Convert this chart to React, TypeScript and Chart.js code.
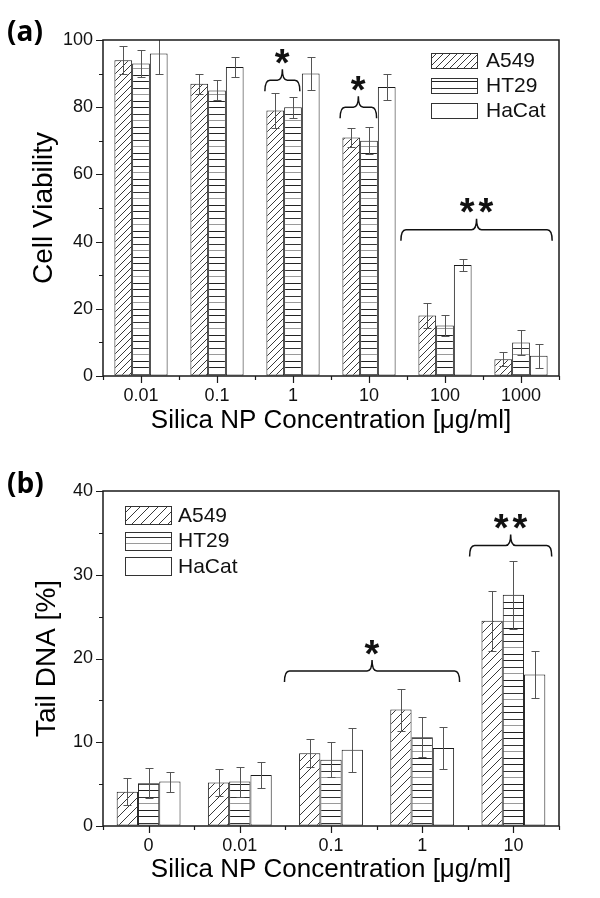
import React, { useEffect, useRef } from 'react';
import { Chart, registerables } from 'chart.js';
Chart.register(...registerables);

const FONT = "'Liberation Sans', Arial, sans-serif";

// ---------- Panel (a): cell viability ----------
const catsA = ['0.01', '0.1', '1', '10', '100', '1000'];
const a549A = [94, 87, 79, 71, 18, 5];
const a549ErrA = [4.2, 3, 5.2, 2.9, 3.8, 2];
const ht29A = [93, 85, 80, 70, 15, 10];
const ht29ErrA = [4, 3, 3.1, 4, 3.1, 3.8];
const hacatA = [96, 92, 90, 86, 33, 6];
const hacatErrA = [6, 3, 5, 4, 1.8, 3.5];

// ---------- Panel (b): tail DNA ----------
const catsB = ['0', '0.01', '0.1', '1', '10'];
const a549B = [4.1, 5.2, 8.7, 13.9, 24.5];
const a549ErrB = [1.6, 1.6, 1.7, 2.5, 3.6];
const ht29B = [5.1, 5.3, 7.9, 10.6, 27.6];
const ht29ErrB = [1.8, 1.8, 2.1, 2.4, 4.1];
const hacatB = [5.3, 6.1, 9.1, 9.3, 18.1];
const hacatErrB = [1.2, 1.6, 2.6, 2.5, 2.8];

const seriesNames = ['A549', 'HT29', 'HaCat'];

// significance brackets (x in category-index units, y in data units)
const bracketsA = [
  { label: '*', from: 1.63, to: 2.09, y: 88 },
  { label: '*', from: 2.62, to: 3.1, y: 80 },
  { label: '**', from: 3.42, to: 5.41, y: 43.5 },
];
const bracketsB = [
  { label: '*', from: 1.49, to: 3.41, y: 18.5 },
  { label: '**', from: 3.52, to: 4.42, y: 33.5 },
];

const xTitle = 'Silica NP Concentration [\u03bcg/ml]';

function makeDiag(size: number) {
  const c = document.createElement('canvas');
  c.width = size; c.height = size;
  const g = c.getContext('2d')!;
  g.fillStyle = '#fff'; g.fillRect(0, 0, size, size);
  g.strokeStyle = '#222'; g.lineWidth = 0.9;
  g.beginPath();
  g.moveTo(-1, size + 1); g.lineTo(size + 1, -1);
  g.moveTo(-1, 1); g.lineTo(1, -1);
  g.moveTo(size - 1, size + 1); g.lineTo(size + 1, size - 1);
  g.stroke();
  return g.createPattern(c, 'repeat')!;
}

function makeHoriz() {
  const c = document.createElement('canvas');
  c.width = 4; c.height = 26;
  const g = c.getContext('2d')!;
  g.fillStyle = '#fff'; g.fillRect(0, 0, 4, 26);
  const ys = [3, 10, 16, 23];
  const cols = ['#222', '#333', '#9a9a9a', '#222'];
  ys.forEach((y, i) => { g.fillStyle = cols[i]; g.fillRect(0, y, 4, 1); });
  return g.createPattern(c, 'repeat')!;
}

function brace(ctx: CanvasRenderingContext2D, x1: number, x2: number, y: number) {
  const xm = (x1 + x2) / 2, drop = 11, spike = 11, r = 5;
  ctx.beginPath();
  ctx.moveTo(x1, y + drop);
  ctx.quadraticCurveTo(x1, y, x1 + r, y);
  ctx.lineTo(xm - r, y);
  ctx.quadraticCurveTo(xm, y, xm, y - spike);
  ctx.quadraticCurveTo(xm, y, xm + r, y);
  ctx.lineTo(x2 - r, y);
  ctx.quadraticCurveTo(x2, y, x2, y + drop);
  ctx.stroke();
}

function centeredText(ctx: CanvasRenderingContext2D, text: string, cx: number, cy: number) {
  const m = ctx.measureText(text);
  ctx.textAlign = 'left';
  ctx.textBaseline = 'alphabetic';
  const x0 = cx - (m.actualBoundingBoxRight - m.actualBoundingBoxLeft) / 2;
  const y0 = cy + (m.actualBoundingBoxAscent - m.actualBoundingBoxDescent) / 2;
  ctx.fillText(text, x0, y0);
}

type Panel = {
  cats: string[];
  values: number[][];
  errors: number[][];
  yMax: number; yStep: number; yMinor: number;
  yTitle: string; yTitlePad: number;
  brackets: { label: string; from: number; to: number; y: number }[];
  tag: string; tagY: number;
  padTop: number; axisH: number; diag: number;
  legend: { dx: number; fromRight: boolean; dy: number; pitch: number; h: number; textGap: number };
};

const panelA: Panel = {
  cats: catsA,
  values: [a549A, ht29A, hacatA],
  errors: [a549ErrA, ht29ErrA, hacatErrA],
  yMax: 100, yStep: 20, yMinor: 10,
  yTitle: 'Cell Viability', yTitlePad: 27,
  brackets: bracketsA,
  tag: '(a)', tagY: 33,
  padTop: 40, axisH: 73, diag: 7,
  legend: { dx: 128, fromRight: true, dy: 13, pitch: 25, h: 15, textGap: 8 },
};

const panelB: Panel = {
  cats: catsB,
  values: [a549B, ht29B, hacatB],
  errors: [a549ErrB, ht29ErrB, hacatErrB],
  yMax: 40, yStep: 10, yMinor: 5,
  yTitle: 'Tail DNA [%]', yTitlePad: 30,
  brackets: bracketsB,
  tag: '(b)', tagY: 36,
  padTop: 42, axisH: 72, diag: 9,
  legend: { dx: 22, fromRight: false, dy: 15, pitch: 25.5, h: 18, textGap: 6 },
};

function buildChart(canvas: HTMLCanvasElement, p: Panel) {
  const ctx = canvas.getContext('2d')!;
  const fills: (CanvasPattern | string)[] = [makeDiag(p.diag), makeHoriz(), '#ffffff'];
  const datasets = p.values.map((vals, i) => ({
    label: seriesNames[i],
    data: vals,
    errors: p.errors[i],
    backgroundColor: fills[i],
    borderColor: '#1a1a1a',
    borderWidth: 1,
    borderSkipped: false,
    categoryPercentage: 0.7,
    barPercentage: 1,
  }));

  const decor = {
    id: 'decor',
    afterDraw(chart: any) {
      const c: CanvasRenderingContext2D = chart.ctx;
      const { left, right, top, bottom } = chart.chartArea;
      const xs = chart.scales.x, ys = chart.scales.y;
      c.save();
      // error bars
      c.save();
      c.beginPath();
      c.rect(left, top, right - left, bottom - top);
      c.clip();
      c.strokeStyle = '#555';
      c.lineWidth = 1;
      chart.data.datasets.forEach((ds: any, di: number) => {
        const meta = chart.getDatasetMeta(di);
        meta.data.forEach((bar: any, j: number) => {
          const v = ds.data[j], e = ds.errors[j];
          const yt = Math.round(ys.getPixelForValue(v + e)) + 0.5;
          const yb = Math.round(ys.getPixelForValue(v - e)) + 0.5;
          const bx = Math.round(bar.x) + 0.5;
          c.beginPath();
          c.moveTo(bx, yt); c.lineTo(bx, yb);
          c.moveTo(bx - 4, yt); c.lineTo(bx + 4, yt);
          c.moveTo(bx - 4, yb); c.lineTo(bx + 4, yb);
          c.stroke();
        });
      });
      c.restore();

      // frame
      c.strokeStyle = '#1a1a1a';
      c.lineWidth = 1.5;
      c.strokeRect(left, top, right - left, bottom - top);

      // y ticks
      c.lineWidth = 1.2;
      c.beginPath();
      for (let v = 0; v <= p.yMax + 1e-9; v += p.yMinor) {
        const len = Math.abs(v / p.yStep - Math.round(v / p.yStep)) < 1e-6 ? 7 : 4;
        const y = Math.round(ys.getPixelForValue(v)) + 0.5;
        c.moveTo(left - len, y); c.lineTo(left, y);
      }
      // x ticks: centers (long) and boundaries (short)
      for (let i = 0; i < p.cats.length; i++) {
        const x = Math.round(xs.getPixelForValue(i)) + 0.5;
        c.moveTo(x, bottom); c.lineTo(x, bottom + 7);
      }
      for (let i = 0; i <= p.cats.length; i++) {
        const x = Math.round(xs.getPixelForValue(i - 0.5)) + 0.5;
        c.moveTo(x, bottom); c.lineTo(x, bottom + 4);
      }
      c.stroke();

      // significance brackets
      c.strokeStyle = '#111';
      c.fillStyle = '#111';
      c.lineWidth = 1.5;
      p.brackets.forEach((b) => {
        const x1 = xs.getPixelForValue(b.from);
        const x2 = xs.getPixelForValue(b.to);
        const y = ys.getPixelForValue(b.y);
        brace(c, x1, x2, y);
        c.font = `bold 38px ${FONT}`;
        (c as any).letterSpacing = '4px';
        centeredText(c, b.label, (x1 + x2) / 2, y - 24);
        (c as any).letterSpacing = '0px';
      });

      // legend
      const L = p.legend;
      const lx = L.fromRight ? right - L.dx : left + L.dx;
      chart.data.datasets.forEach((ds: any, i: number) => {
        const by = top + L.dy + i * L.pitch;
        c.fillStyle = ds.backgroundColor;
        c.fillRect(lx, by, 47, L.h);
        c.strokeStyle = '#333';
        c.lineWidth = 1;
        c.strokeRect(lx + 0.5, Math.round(by) + 0.5, 46, L.h);
        c.fillStyle = '#111';
        c.font = `21px ${FONT}`;
        c.textAlign = 'left';
        c.textBaseline = 'middle';
        c.fillText(ds.label, lx + 47 + L.textGap, by + L.h / 2 + 1);
      });

      // panel tag
      c.fillStyle = '#000';
      c.font = "bold 28px 'Open Sans', sans-serif";
      c.textAlign = 'left';
      c.textBaseline = 'middle';
      c.fillText(p.tag, 7, p.tagY);
      c.restore();
    },
  };

  return new Chart(ctx, {
    type: 'bar',
    data: { labels: p.cats, datasets: datasets as any },
    options: {
      responsive: false,
      animation: false,
      devicePixelRatio: 1,
      layout: { padding: { top: p.padTop, right: 41, left: 0, bottom: 0 } },
      plugins: { legend: { display: false }, tooltip: { enabled: false } },
      scales: {
        x: {
          type: 'category',
          offset: true,
          grid: { display: true, drawOnChartArea: false, drawTicks: true, tickLength: 7, color: 'rgba(0,0,0,0)', tickColor: 'rgba(0,0,0,0)' },
          border: { display: false },
          ticks: { font: { family: FONT, size: 18 }, color: '#111', padding: 2, maxRotation: 0, autoSkip: false },
          title: { display: true, text: xTitle, font: { family: FONT, size: 26 }, color: '#000', padding: { top: 0, bottom: 13 } },
          afterFit(s: any) { s.height = p.axisH; },
        },
        y: {
          min: 0, max: p.yMax,
          grid: { display: true, drawOnChartArea: false, drawTicks: true, tickLength: 7, color: 'rgba(0,0,0,0)', tickColor: 'rgba(0,0,0,0)' },
          border: { display: false },
          ticks: { stepSize: p.yStep, font: { family: FONT, size: 18 }, color: '#111', padding: 3 },
          title: { display: true, text: p.yTitle, font: { family: FONT, size: 28 }, color: '#000', padding: { top: p.yTitlePad, bottom: 0 } },
          afterFit(s: any) { s.width = 103; },
        },
      },
    } as any,
    plugins: [decor],
  });
}

export default function App() {
  const refA = useRef<HTMLCanvasElement>(null);
  const refB = useRef<HTMLCanvasElement>(null);
  useEffect(() => {
    const a = buildChart(refA.current!, panelA);
    const b = buildChart(refB.current!, panelB);
    return () => { a.destroy(); b.destroy(); };
  }, []);
  return (
    <div style={{ position: 'absolute', left: 0, top: 0, width: 600, height: 898, background: '#fff' }}>
      <canvas ref={refA} width={600} height={449} style={{ display: 'block', width: 600, height: 449 }} />
      <canvas ref={refB} width={600} height={449} style={{ display: 'block', width: 600, height: 449 }} />
    </div>
  );
}
